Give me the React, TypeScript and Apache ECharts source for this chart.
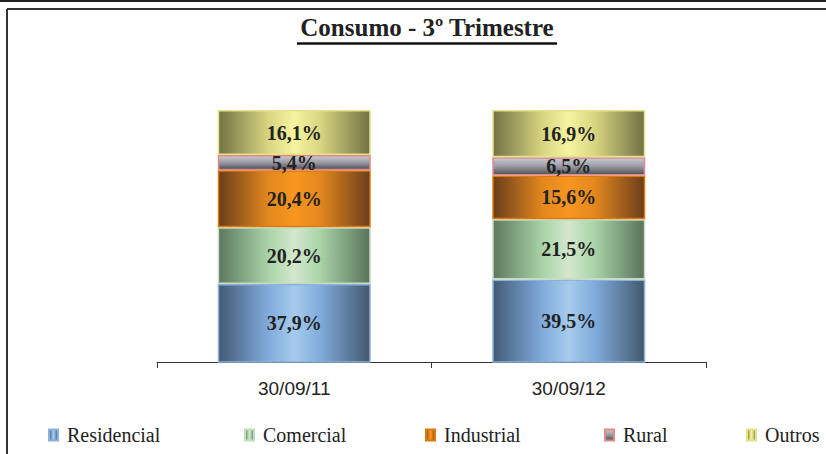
import React, { useEffect, useRef } from "react";
import * as echarts from "echarts";

const categories = ["30/09/11", "30/09/12"];
const seriesNames = ["Residencial", "Comercial", "Industrial", "Rural", "Outros"];
const residencial = [37.9, 39.5];
const comercial = [20.2, 21.5];
const industrial = [20.4, 15.6];
const rural = [5.4, 6.5];
const outros = [16.1, 16.9];
const titleText = "Consumo - 3º Trimestre";

const hGrad = (edge: string, mid: string, center: string, edge2?: string) =>
  new echarts.graphic.LinearGradient(0, 0, 1, 0, [
    { offset: 0, color: edge },
    { offset: 0.33, color: mid },
    { offset: 0.5, color: center },
    { offset: 0.67, color: mid },
    { offset: 1, color: edge2 || edge },
  ]);

const styles = [
  { color: hGrad("#435a76", "#80acdc", "#a6cbec", "#43586f"), borderColor: "#8cb2da" },
  { color: hGrad("#5e785e", "#a8d4a8", "#d4e8cc", "#5a725a"), borderColor: "#c6dcbe" },
  { color: hGrad("#6a3e1a", "#e4881e", "#f7961f", "#6a3e1a"), borderColor: "#dc7a12" },
  {
    color: new echarts.graphic.LinearGradient(0, 0, 0, 1, [
      { offset: 0, color: "#cacad2" },
      { offset: 0.5, color: "#9a9aa2" },
      { offset: 1, color: "#4e4e56" },
    ]),
    borderColor: "#e08a8a",
  },
  { color: hGrad("#727246", "#d8d680", "#f6f49e", "#727246"), borderColor: "#e6e28a" },
];

const dataSets = [residencial, comercial, industrial, rural, outros];
const legendLeft = [48, 244, 425, 604, 746];

export default function App() {
  const ref = useRef<HTMLDivElement>(null);
  useEffect(() => {
    document.body.style.margin = "0";
    const chart = echarts.init(ref.current!, undefined, { renderer: "svg" });
    const option: any = {
      animation: false,
      backgroundColor: "#ffffff",
      grid: { left: 157, right: 120, top: 110, bottom: 92, containLabel: false },
      xAxis: {
        type: "category",
        data: categories,
        axisLine: { lineStyle: { color: "#333", width: 1 } },
        axisTick: { show: true, length: 6, lineStyle: { color: "#333" } },
        axisLabel: {
          color: "#222",
          fontFamily: "Liberation Sans",
          fontSize: 19,
          margin: 17,
        },
      },
      yAxis: { type: "value", min: 10, max: 100, show: false },
      legend: seriesNames.map((n, i) => ({
        data: [n],
        left: legendLeft[i],
        top: 425,
        padding: 0,
        icon: "rect",
        itemWidth: 9,
        itemHeight: 11,
        textStyle: {
          fontFamily: "Liberation Serif",
          fontSize: 20,
          color: "#222",
          padding: [0, 0, 0, 4],
        },
      })),
      series: seriesNames.map((n, i) => ({
        name: n,
        type: "bar",
        stack: "total",
        barWidth: 153,
        data: dataSets[i],
        itemStyle: { color: styles[i].color, borderColor: styles[i].borderColor, borderWidth: 1.5 },
        label: {
          show: true,
          position: "inside",
          formatter: (p: any) => p.value.toFixed(1).replace(".", ",") + "%",
          fontFamily: "Liberation Serif",
          fontWeight: "bold",
          fontSize: 20,
          color: "#222",
        },
      })),
      graphic: [
        { type: "line", shape: { x1: 0, y1: 1, x2: 826, y2: 1 }, style: { stroke: "#222", lineWidth: 2 } },
        { type: "line", shape: { x1: 7, y1: 9, x2: 826, y2: 9 }, style: { stroke: "#333", lineWidth: 2 } },
        { type: "line", shape: { x1: 7, y1: 9, x2: 7, y2: 454 }, style: { stroke: "#333", lineWidth: 2 } },
        {
          type: "text",
          x: 427,
          y: 15,
          style: {
            text: titleText,
            fontFamily: "Liberation Serif",
            fontWeight: "bold",
            fontSize: 25,
            fill: "#222",
            textAlign: "center",
            textVerticalAlign: "top",
          },
        },
        { type: "line", shape: { x1: 297, y1: 43.5, x2: 557, y2: 43.5 }, style: { stroke: "#111", lineWidth: 2.5 } },
      ],
    };
    chart.setOption(option);
    return () => chart.dispose();
  }, []);
  return <div ref={ref} style={{ width: 826, height: 454 }} />;
}
